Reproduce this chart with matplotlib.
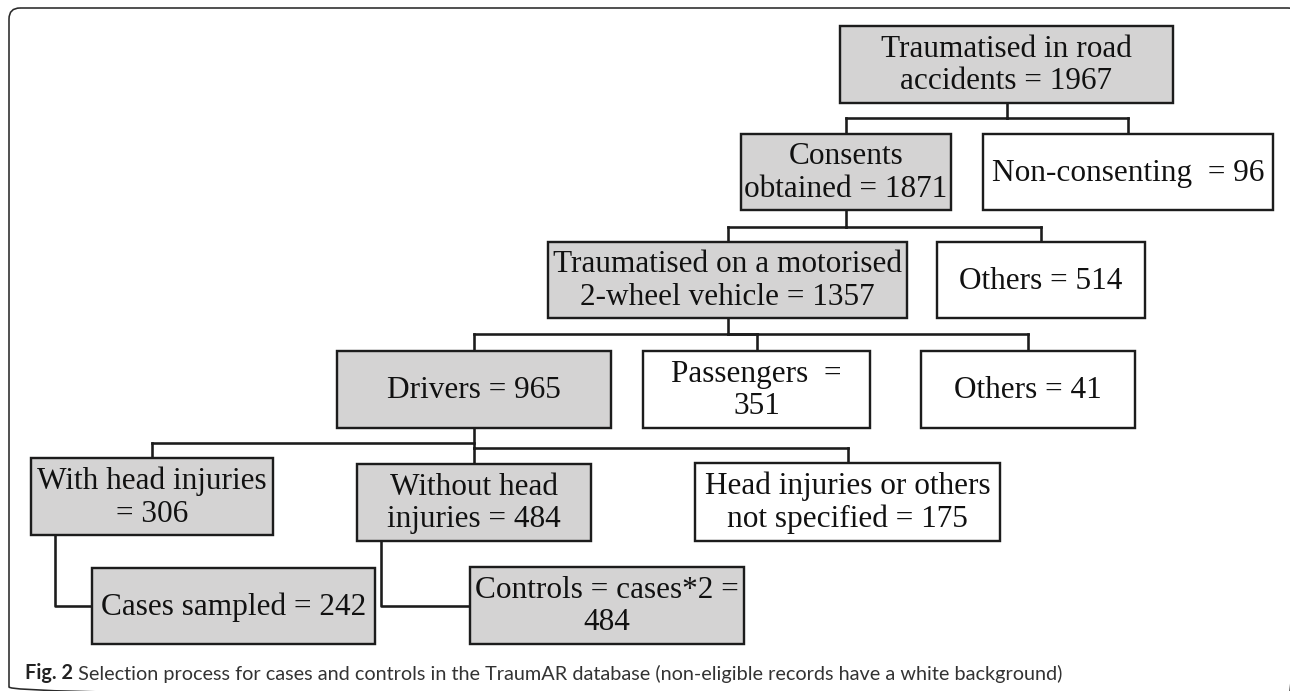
import matplotlib.pyplot as plt
from matplotlib.patches import Rectangle, FancyBboxPatch


# Selection of cases and controls in the TraumAR database (flow chart)

labels = [
    "Traumatised in road\naccidents = {}",
    "Consents\nobtained = {}",
    "Non-consenting  = {}",
    "Traumatised on a motorised\n2-wheel vehicle = {}",
    "Others = {}",
    "Drivers = {}",
    "Passengers  =\n{}",
    "Others = {}",
    "With head injuries\n= {}",
    "Without head\ninjuries = {}",
    "Head injuries or others\nnot specified = {}",
    "Cases sampled = {}",
    "Controls = cases*2 =\n{}",
]
counts = [1967, 1871, 96, 1357, 514, 965, 351, 41, 306, 484, 175, 242, 484]
eligible = [True, True, False, True, False, True, False, False,
            True, True, False, True, True]

# parent -> children
tree_links = [(0, [1, 2]), (1, [3, 4]), (3, [5, 6, 7]), (5, [8, 9, 10])]
side_links = [(8, 11), (9, 12)]

caption_bold = "Fig. 2"
caption = (" Selection process for cases and controls in the TraumAR database "
           "(non-eligible records have a white background)")

# layout in pixels (x0, y0, x1, y1), y pointing down
boxes = [
    (840, 26, 1173, 103),
    (741, 134, 951, 210),
    (983, 134, 1273, 210),
    (548, 242, 907, 318),
    (937, 242, 1145, 318),
    (337, 351, 611, 428),
    (643, 351, 870, 428),
    (921, 351, 1135, 428),
    (31, 458, 273, 535),
    (357, 464, 591, 541),
    (695, 463, 1000, 541),
    (92, 568, 375, 644),
    (470, 567, 744, 644),
]
bus_y = {1: 118, 2: 118, 3: 227, 4: 227, 5: 334, 6: 334, 7: 334,
         8: 443, 9: 448, 10: 448}
side_offset = 24

W, H = 1290, 691
fig = plt.figure(figsize=(W / 100, H / 100), dpi=100)
ax = fig.add_axes([0, 0, 1, 1])
ax.set_xlim(0, W)
ax.set_ylim(H, 0)
ax.axis('off')

px = 0.72  # points per pixel
line_kw = dict(color='#1c1c1c', lw=2.6 * px, solid_capstyle='projecting')

# outer frame
ax.add_patch(FancyBboxPatch((9, 8), 1290, 690,
                            boxstyle="round,pad=0,rounding_size=11",
                            fc='none', ec='#2a2a2a', lw=1.6 * px,
                            clip_on=False))


def center_x(i):
    return (boxes[i][0] + boxes[i][2]) / 2


for parent, children in tree_links:
    cx = center_x(parent)
    y_low = max(bus_y[c] for c in children)
    ax.plot([cx, cx], [boxes[parent][3], y_low], **line_kw)
    for c in children:
        ccx = center_x(c)
        ax.plot([cx, ccx], [bus_y[c], bus_y[c]], **line_kw)
        ax.plot([ccx, ccx], [bus_y[c], boxes[c][1]], **line_kw)

for parent, child in side_links:
    x = boxes[parent][0] + side_offset
    cy = (boxes[child][1] + boxes[child][3]) / 2
    ax.plot([x, x, boxes[child][0]], [boxes[parent][3], cy, cy], **line_kw)

for i, (x0, y0, x1, y1) in enumerate(boxes):
    fc = '#d4d3d3' if eligible[i] else 'white'
    ax.add_patch(Rectangle((x0, y0), x1 - x0, y1 - y0, fc=fc,
                           ec='#1c1c1c', lw=2.4 * px, zorder=3))
    ax.text((x0 + x1) / 2, (y0 + y1) / 2 + 1, labels[i].format(counts[i]),
            ha='center', va='center', family='Liberation Serif',
            fontsize=22.5, linespacing=1.16, color='#111111', zorder=4)

t = ax.text(25, 673, caption_bold, ha='left', va='center', family='Lato',
            fontsize=14.3, fontweight='bold', color='#222222')
ax.annotate(caption, xy=(1, 0), xycoords=t, ha='left', va='bottom',
            family='Lato', fontsize=14.3, color='#333333')

fig.savefig('out.png', dpi=100)
plt.close()
